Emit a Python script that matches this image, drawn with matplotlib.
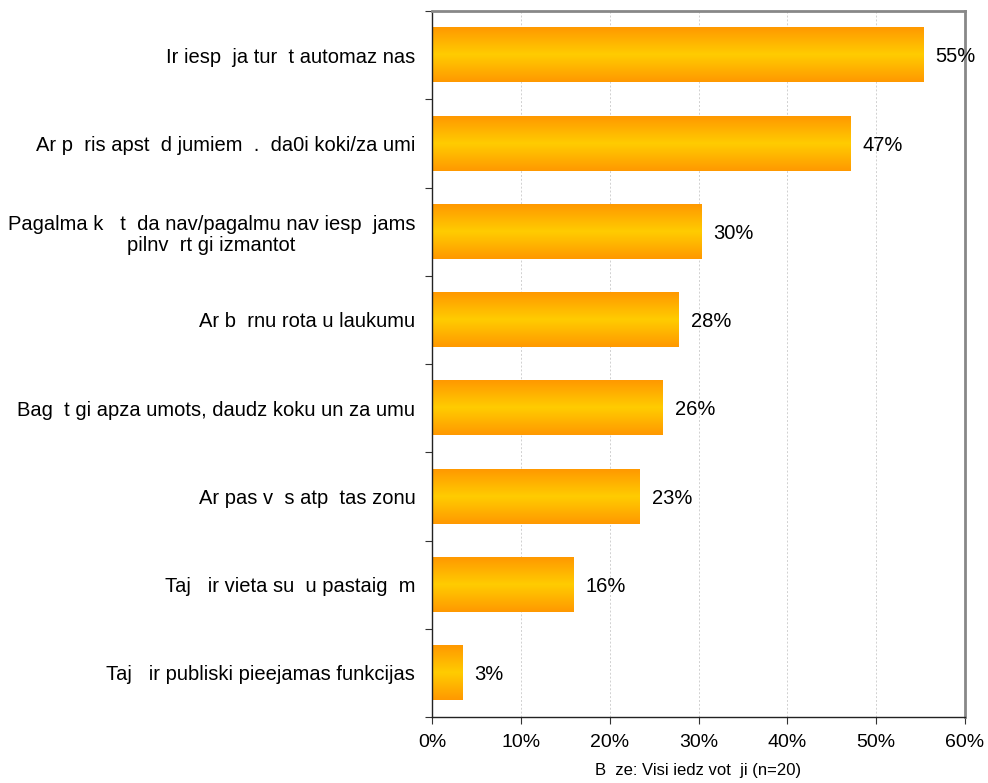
import matplotlib
matplotlib.use("Agg")
import matplotlib.pyplot as plt
import numpy as np
from matplotlib.colors import LinearSegmentedColormap

plt.rcParams["font.family"] = ["Liberation Sans", "DejaVu Sans"]

categories = [
    "Ir iesp  ja tur  t automaz nas",
    "Ar p  ris apst  d jumiem  .  da0i koki/za umi",
    "Pagalma k   t  da nav/pagalmu nav iesp  jams\npilnv  rt gi izmantot",
    "Ar b  rnu rota u laukumu",
    "Bag  t gi apza umots, daudz koku un za umu",
    "Ar pas v  s atp  tas zonu",
    "Taj   ir vieta su  u pastaig  m",
    "Taj   ir publiski pieejamas funkcijas",
]
values = [55.3, 47.1, 30.3, 27.8, 25.9, 23.4, 15.9, 3.4]
xticks = [0, 10, 20, 30, 40, 50, 60]
footer = "B  ze: Visi iedz vot  ji (n=20)"

fig = plt.figure(figsize=(9.88, 7.83), dpi=100)
ax = fig.add_axes([432 / 988, 1 - 717 / 783, 533 / 988, 706 / 783])

n = len(categories)

# vertical gradient: orange edges, yellow middle
cmap = LinearSegmentedColormap.from_list("bar", ["#ff9900", "#ffcc00", "#ff9900"])
grad = np.linspace(0, 1, 64).reshape(-1, 1)
h = 0.62
for i, v in enumerate(values):
    ax.imshow(grad, cmap=cmap, aspect="auto", interpolation="bilinear",
              extent=(0, v, i + h / 2, i - h / 2), zorder=2)
    ax.text(v + 1.4, i + 0.02, f"{round(v)}%", va="center", ha="left", fontsize=14.5)
ax.set_xlim(0, 60)
ax.set_ylim(n - 0.5, -0.5)

ax.set_xticks(xticks)
ax.set_xticklabels([f"{t}%" for t in xticks], fontsize=14)
ax.set_yticks(np.arange(n + 1) - 0.5, minor=False)
ax.set_yticklabels([])
ax.set_yticks(np.arange(n), minor=True)
ax.set_yticklabels(categories, minor=True, fontsize=14.5, multialignment="center",
                   linespacing=1.15)
ax.tick_params(axis="y", which="minor", length=0, pad=12)
ax.tick_params(axis="y", which="major", length=5, direction="out", color="#333333")
ax.tick_params(axis="x", length=5, direction="out", color="#333333", pad=7)

ax.grid(axis="x", color="#d0d0d0", linestyle=(0, (2, 2)), linewidth=0.7, zorder=0)
ax.set_axisbelow(True)

for s in ["top", "right"]:
    ax.spines[s].set_color("#888888")
    ax.spines[s].set_linewidth(2)
for s in ["left", "bottom"]:
    ax.spines[s].set_color("#222222")
    ax.spines[s].set_linewidth(1)

fig.text(698 / 988, 1 - 771 / 783, footer, ha="center", va="center", fontsize=12)

fig.savefig("out.png", dpi=100, facecolor="white")
